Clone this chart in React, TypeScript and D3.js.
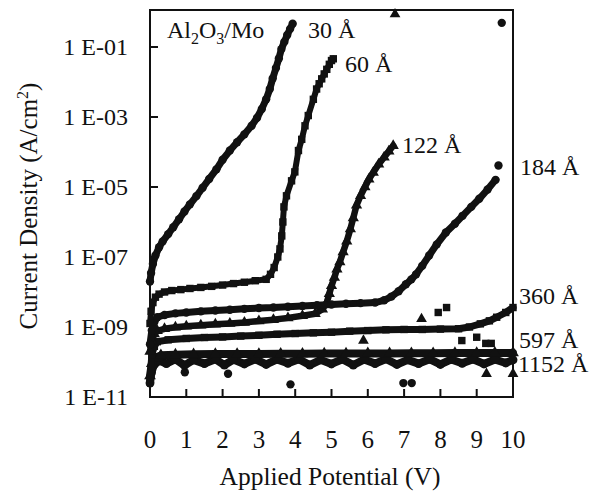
import React, { useEffect, useRef } from 'react';
import * as d3 from 'd3';

// Current density (A/cm^2) vs applied potential (V)
const film30: [number, number][] = [
  [0, 2.0e-8], [0.03, 3.5e-8], [0.08, 6.3e-8], [0.15, 1.1e-7], [0.25, 1.9e-7], [0.35, 2.8e-7],
  [0.5, 4.5e-7], [0.64, 7.1e-7], [0.8, 1.2e-6], [0.95, 2.0e-6], [1.1, 3.2e-6], [1.28, 5.5e-6],
  [1.45, 9.5e-6], [1.63, 1.7e-5], [1.83, 3.2e-5], [2.0, 6.0e-5], [2.2, 1.1e-4], [2.4, 1.9e-4],
  [2.6, 3.2e-4], [2.8, 5.6e-4], [2.95, 9.5e-4], [3.08, 1.7e-3], [3.2, 3.2e-3], [3.3, 6.3e-3],
  [3.38, 1.26e-2], [3.47, 2.5e-2], [3.55, 4.7e-2], [3.62, 8.7e-2], [3.7, 1.4e-1], [3.78, 2.2e-1],
  [3.86, 3.3e-1], [3.93, 4.6e-1],
];

const film60: [number, number][] = [
  [0, 1.26e-9], [0.03, 2.8e-9], [0.08, 5.0e-9], [0.15, 7.1e-9], [0.25, 8.7e-9], [0.4, 1.0e-8],
  [0.6, 1.1e-8], [0.85, 1.17e-8], [1.1, 1.26e-8], [1.4, 1.35e-8], [1.7, 1.45e-8], [2.0, 1.58e-8],
  [2.3, 1.74e-8], [2.6, 1.9e-8], [2.9, 2.1e-8], [3.2, 2.3e-8], [3.32, 3.2e-8], [3.42, 5.0e-8],
  [3.52, 1.0e-7], [3.58, 1.7e-7], [3.63, 4.0e-7], [3.66, 1.0e-6], [3.69, 2.7e-6], [3.76, 5.6e-6],
  [3.9, 1.5e-5], [3.99, 2.7e-5], [4.09, 1.1e-4], [4.18, 2.3e-4], [4.27, 5.6e-4], [4.36, 1.1e-3],
  [4.5, 3.2e-3], [4.59, 6.3e-3], [4.66, 8.9e-3], [4.73, 1.23e-2], [4.8, 1.7e-2], [4.87, 2.3e-2],
  [4.94, 3.2e-2], [5.0, 4.1e-2], [5.05, 4.6e-2],
];

const film122: [number, number][] = [
  [0, 2.0e-10], [0.05, 4.0e-10], [0.12, 6.3e-10], [0.2, 7.8e-10], [0.4, 8.9e-10], [0.7, 9.8e-10],
  [1.0, 1.05e-9], [1.4, 1.12e-9], [1.8, 1.2e-9], [2.2, 1.26e-9], [2.6, 1.35e-9], [3.0, 1.48e-9],
  [3.4, 1.62e-9], [3.8, 1.82e-9], [4.2, 2.1e-9], [4.55, 2.4e-9], [4.75, 3.2e-9], [4.87, 5.0e-9],
  [4.94, 8.9e-9], [5.0, 1.5e-8], [5.08, 2.6e-8], [5.15, 4.5e-8], [5.23, 7.2e-8], [5.32, 1.4e-7],
  [5.42, 2.8e-7], [5.52, 6.3e-7], [5.6, 1.3e-6], [5.69, 3.0e-6], [5.8, 5.6e-6], [5.92, 1.0e-5],
  [6.03, 1.66e-5], [6.15, 2.6e-5], [6.3, 4.5e-5], [6.45, 7.1e-5], [6.58, 1.05e-4], [6.7, 1.5e-4],
];

const film184: [number, number][] = [
  [0, 3.2e-10], [0.05, 7.9e-10], [0.12, 1.4e-9], [0.2, 1.9e-9], [0.4, 2.2e-9], [0.7, 2.45e-9],
  [1.0, 2.6e-9], [1.4, 2.8e-9], [1.8, 2.95e-9], [2.2, 3.1e-9], [2.6, 3.3e-9], [3.0, 3.5e-9],
  [3.4, 3.6e-9], [3.8, 3.8e-9], [4.2, 4.0e-9], [4.6, 4.2e-9], [5.0, 4.4e-9], [5.4, 4.6e-9],
  [5.8, 4.8e-9], [6.2, 5.0e-9], [6.45, 5.8e-9], [6.65, 7.4e-9], [6.85, 1.05e-8], [7.05, 1.66e-8],
  [7.2, 2.3e-8], [7.33, 3.2e-8], [7.5, 5.6e-8], [7.69, 1.1e-7], [7.9, 2.3e-7], [8.15, 5.0e-7],
  [8.4, 8.9e-7], [8.61, 1.5e-6], [8.85, 2.7e-6], [9.07, 4.6e-6], [9.3, 8.5e-6], [9.52, 1.6e-5],
];

const film360: [number, number][] = [
  [0, 2.8e-11], [0.05, 1.6e-10], [0.12, 2.8e-10], [0.2, 3.8e-10], [0.5, 4.3e-10], [1.0, 4.7e-10],
  [1.5, 5.0e-10], [2.0, 5.2e-10], [2.5, 5.5e-10], [3.0, 5.8e-10], [3.5, 6.2e-10], [4.0, 6.5e-10],
  [4.5, 6.8e-10], [5.0, 7.1e-10], [5.5, 7.6e-10], [6.0, 7.9e-10], [6.5, 8.3e-10], [7.0, 8.5e-10],
  [7.5, 8.5e-10], [8.0, 8.7e-10], [8.5, 8.9e-10], [8.8, 1.0e-9], [9.1, 1.23e-9], [9.35, 1.5e-9],
  [9.55, 1.9e-9], [9.8, 2.6e-9], [10.0, 3.6e-9],
];

const film597: [number, number][] = [
  [0, 4.0e-11], [0.05, 9.0e-11], [0.12, 1.3e-10], [0.3, 1.55e-10], [0.7, 1.62e-10], [1.2, 1.66e-10],
  [1.8, 1.68e-10], [2.4, 1.7e-10], [3.0, 1.7e-10], [3.6, 1.72e-10], [4.2, 1.72e-10], [4.8, 1.74e-10],
  [5.4, 1.74e-10], [6.0, 1.76e-10], [6.6, 1.76e-10], [7.2, 1.78e-10], [7.8, 1.78e-10], [8.4, 1.8e-10],
  [9.0, 1.8e-10], [9.5, 1.82e-10], [10.0, 1.82e-10],
];

const film1152: [number, number][] = [
  [0, 2.5e-11], [0.04, 5.0e-11], [0.1, 8.0e-11], [0.25, 1.1e-10], [0.45, 9.0e-11], [0.7, 1.2e-10],
  [0.95, 8.0e-11], [1.2, 1.15e-10], [1.5, 9.0e-11], [1.8, 1.2e-10], [2.05, 8.2e-11], [2.3, 1.18e-10],
  [2.6, 8.8e-11], [2.9, 1.2e-10], [3.2, 8.5e-11], [3.5, 1.18e-10], [3.8, 9.2e-11], [4.1, 1.2e-10],
  [4.4, 8.2e-11], [4.7, 1.15e-10], [5.0, 8.8e-11], [5.3, 1.2e-10], [5.6, 8.2e-11], [5.9, 1.18e-10],
  [6.2, 9.0e-11], [6.5, 1.22e-10], [6.8, 8.5e-11], [7.1, 1.15e-10], [7.4, 9.0e-11], [7.7, 1.2e-10],
  [8.0, 8.5e-11], [8.3, 1.18e-10], [8.6, 9.2e-11], [8.9, 1.2e-10], [9.2, 8.8e-11], [9.5, 1.18e-10],
  [9.8, 9.4e-11], [10.0, 1.15e-10],
];

// stray points off the main curves
const strayCircles: [number, number][] = [
  [9.6, 4.1e-5], [9.69, 4.9e-1], [0.96, 5.1e-11], [2.15, 4.6e-11], [3.87, 2.3e-11], [6.98, 2.5e-11], [7.21, 2.5e-11],
];
const straySquares: [number, number][] = [
  [7.94, 2.6e-9], [8.17, 3.6e-9], [8.59, 4.1e-10], [9.0, 5.1e-10], [9.25, 3.4e-10], [9.4, 3.4e-10],
];
const strayTriangles: [number, number][] = [
  [6.75, 8.7e-1], [7.48, 1.7e-9], [5.88, 4.1e-10], [9.27, 4.6e-11], [10.0, 4.6e-11],
];

const xTicks = [0, 1, 2, 3, 4, 5, 6, 7, 8, 9, 10];
const yTicks = [1e-1, 1e-3, 1e-5, 1e-7, 1e-9, 1e-11];
const yTickLabels = ['1 E-01', '1 E-03', '1 E-05', '1 E-07', '1 E-09', '1 E-11'];

const serif = '"Liberation Serif", "Times New Roman", serif';

export default function App() {
  const ref = useRef<SVGSVGElement>(null);
  const width = 595;
  const height = 496;

  useEffect(() => {
    const svg = d3.select(ref.current);
    svg.selectAll('*').remove();

    const x = d3.scaleLinear().domain([0, 10]).range([150, 513]);
    const y = d3.scaleLog().domain([1e-11, 1.14]).range([397, 10]);

    const series = [
      { data: film1152, shape: d3.symbolCircle, size: 62, width: 8 },
      { data: film597, shape: d3.symbolTriangle, size: 60, width: 8 },
      { data: film360, shape: d3.symbolSquare, size: 55, width: 7 },
      { data: film122, shape: d3.symbolTriangle, size: 55, width: 6.5 },
      { data: film184, shape: d3.symbolCircle, size: 55, width: 7 },
      { data: film60, shape: d3.symbolSquare, size: 55, width: 6 },
      { data: film30, shape: d3.symbolCircle, size: 55, width: 7 },
    ];

    const line = d3.line<[number, number]>()
      .x(d => x(d[0]))
      .y(d => y(d[1]));

    const plot = svg.append('g');

    series.forEach(s => {
      plot.append('path')
        .attr('d', line(s.data))
        .attr('fill', 'none')
        .attr('stroke', '#111')
        .attr('stroke-width', s.width)
        .attr('stroke-linejoin', 'round')
        .attr('stroke-linecap', 'round');

      plot.selectAll(null)
        .data(s.data)
        .enter()
        .append('path')
        .attr('d', d3.symbol().type(s.shape).size(s.size)())
        .attr('transform', d => `translate(${x(d[0])},${y(d[1])})`)
        .attr('fill', '#111');
    });

    const strays = [
      { data: strayCircles, shape: d3.symbolCircle, size: 55 },
      { data: straySquares, shape: d3.symbolSquare, size: 55 },
      { data: strayTriangles, shape: d3.symbolTriangle, size: 50 },
    ];
    strays.forEach(s => {
      plot.selectAll(null)
        .data(s.data)
        .enter()
        .append('path')
        .attr('d', d3.symbol().type(s.shape).size(s.size)())
        .attr('transform', d => `translate(${x(d[0])},${y(d[1])})`)
        .attr('fill', '#111');
    });

    // frame
    svg.append('rect')
      .attr('x', x(0))
      .attr('y', y(1.14))
      .attr('width', x(10) - x(0))
      .attr('height', y(1e-11) - y(1.14))
      .attr('fill', 'none')
      .attr('stroke', '#111')
      .attr('stroke-width', 2);

    // x ticks (inward) and labels
    svg.selectAll(null)
      .data(xTicks.slice(1, -1))
      .enter()
      .append('line')
      .attr('x1', d => x(d)).attr('x2', d => x(d))
      .attr('y1', y(1e-11)).attr('y2', y(1e-11) - 8)
      .attr('stroke', '#111').attr('stroke-width', 2);

    svg.selectAll(null)
      .data(xTicks)
      .enter()
      .append('text')
      .attr('x', d => x(d))
      .attr('y', 448)
      .attr('text-anchor', 'middle')
      .style('font-family', serif)
      .style('font-size', '25px')
      .style('fill', '#111')
      .text(d => d);

    // y ticks and labels
    svg.selectAll(null)
      .data(yTicks.slice(0, -1))
      .enter()
      .append('line')
      .attr('x1', x(0)).attr('x2', x(0) + 8)
      .attr('y1', d => y(d)).attr('y2', d => y(d))
      .attr('stroke', '#111').attr('stroke-width', 2);

    svg.selectAll(null)
      .data(yTicks)
      .enter()
      .append('text')
      .attr('x', 128)
      .attr('y', d => y(d) + 8)
      .attr('text-anchor', 'end')
      .style('font-family', serif)
      .style('font-size', '24px')
      .style('fill', '#111')
      .text((d, i) => yTickLabels[i]);

    // axis titles
    svg.append('text')
      .attr('x', 330)
      .attr('y', 485)
      .attr('text-anchor', 'middle')
      .style('font-family', serif)
      .style('font-size', '25.5px')
      .style('fill', '#111')
      .text('Applied Potential (V)');

    const yTitle = svg.append('text')
      .attr('transform', 'translate(37,206) rotate(-90)')
      .attr('text-anchor', 'middle')
      .style('font-family', serif)
      .style('font-size', '25px')
      .style('fill', '#111');
    yTitle.append('tspan').text('Current Density (A/cm');
    yTitle.append('tspan').attr('dy', -9).style('font-size', '16px').text('2');
    yTitle.append('tspan').attr('dy', 9).text(')');

    // material label
    const mat = svg.append('text')
      .attr('x', 167)
      .attr('y', 38)
      .style('font-family', serif)
      .style('font-size', '24px')
      .style('fill', '#111');
    mat.append('tspan').text('Al');
    mat.append('tspan').attr('dy', 6).style('font-size', '16px').text('2');
    mat.append('tspan').attr('dy', -6).text('O');
    mat.append('tspan').attr('dy', 6).style('font-size', '16px').text('3');
    mat.append('tspan').attr('dy', -6).text('/Mo');

    // thickness labels
    const labels = [
      { text: '30 Å', x: 308, y: 38 },
      { text: '60 Å', x: 345, y: 72 },
      { text: '122 Å', x: 402, y: 153 },
      { text: '184 Å', x: 520, y: 175 },
      { text: '360 Å', x: 519, y: 304 },
      { text: '597 Å', x: 519, y: 348 },
      { text: '1152 Å', x: 518, y: 372 },
    ];
    svg.selectAll(null)
      .data(labels)
      .enter()
      .append('text')
      .attr('x', d => d.x)
      .attr('y', d => d.y)
      .style('font-family', serif)
      .style('font-size', '24px')
      .style('fill', '#111')
      .text(d => d.text);
  }, []);

  return (
    <div style={{ position: 'absolute', left: 0, top: 0, width, height, background: '#fff' }}>
      <svg ref={ref} width={width} height={height} />
    </div>
  );
}
